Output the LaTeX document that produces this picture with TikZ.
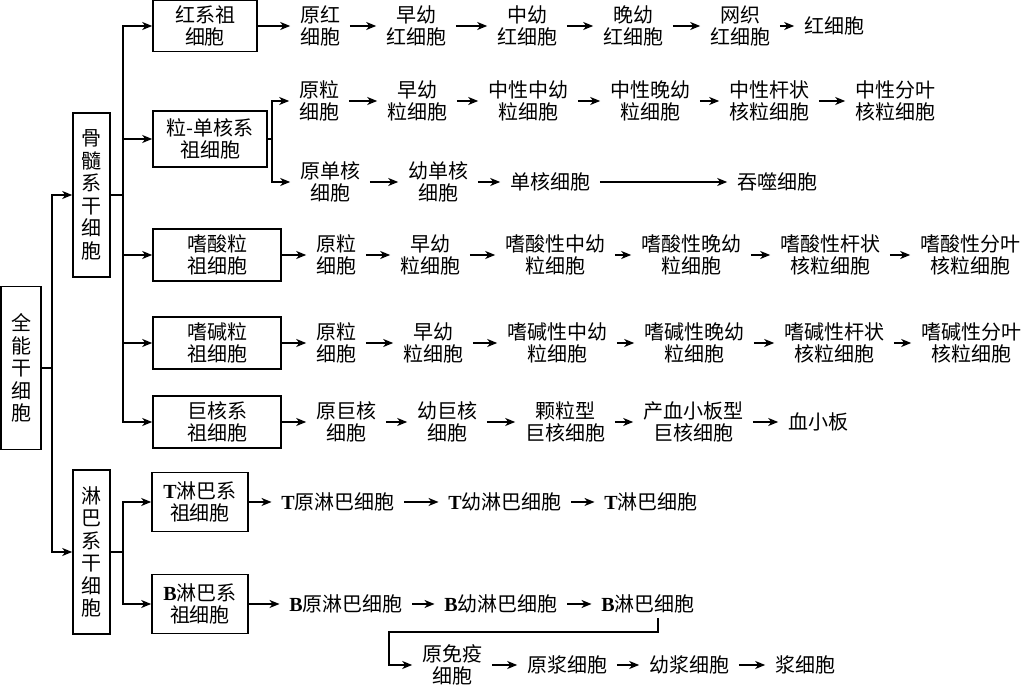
\documentclass[tikz,border=0pt]{standalone}
\usepackage{fontspec}
\newfontfamily\cjk{Noto Sans CJK SC}
\newfontfamily\latfont{Liberation Serif}
\newcommand\lettr[1]{{\latfont\bfseries #1}}
\usetikzlibrary{arrows.meta}

\begin{document}
\begin{tikzpicture}[x=0.5pt,y=-0.5pt,line width=0.8pt,
    >={Stealth[length=5pt,width=4pt,inset=1.5pt]},
    cell/.style={align=center,inner xsep=4.5pt,inner ysep=2pt,font=\cjk\fontsize{10}{11}\selectfont},
    cellbox/.style={draw,align=center,inner sep=0pt,font=\cjk\fontsize{10}{11}\selectfont},
    stembox/.style={cellbox,font=\cjk\fontsize{10}{11.25}\selectfont}]

  \useasboundingbox (0,0) rectangle (1024,688);

  % stem cells
  \node[stembox,minimum width=20pt,minimum height=81.5pt] (quan) at (21,368) {全\\能\\干\\细\\胞};
  \node[stembox,minimum width=18.5pt,minimum height=82pt] (gusui) at (91.5,195) {骨\\髓\\系\\干\\细\\胞};
  \node[stembox,minimum width=18.5pt,minimum height=82pt] (linba) at (91.5,552) {淋\\巴\\系\\干\\细\\胞};

  % progenitors
  \node[cellbox,minimum width=52pt,minimum height=25.5pt] (hong) at (205,26) {红系祖\\细胞};
  \node[cellbox,minimum width=57pt,minimum height=28pt] (lidan) at (210,139) {粒-单核系\\祖细胞};
  \node[cellbox,minimum width=64pt,minimum height=26pt] (suan) at (217,255) {嗜酸粒\\祖细胞};
  \node[cellbox,minimum width=64pt,minimum height=26pt] (jian) at (217,343) {嗜碱粒\\祖细胞};
  \node[cellbox,minimum width=64pt,minimum height=26pt] (juhe) at (217,422) {巨核系\\祖细胞};
  \node[cellbox,minimum width=48pt,minimum height=29.5pt] (tbox) at (200,502) {\lettr{T}淋巴系\\祖细胞};
  \node[cellbox,minimum width=48pt,minimum height=29.5pt] (bbox) at (200,604) {\lettr{B}淋巴系\\祖细胞};

  \coordinate (fork0) at (52,368);
  \draw (quan.east) -- (fork0);
  \draw[->] (fork0) |- (gusui.west);
  \draw[->] (fork0) |- (linba.west);

  \coordinate (fork1) at (123,195);
  \draw (gusui.east) -- (fork1);
  \foreach \b in {hong,lidan,suan,jian,juhe}
    \draw[->] (fork1) |- (\b.west);

  \coordinate (fork2) at (123,552);
  \draw (linba.east) -- (fork2);
  \foreach \b in {tbox,bbox}
    \draw[->] (fork2) |- (\b.west);

  % red
  \node[cell] (h1) at (320,26) {原红\\细胞};
  \node[cell] (h2) at (416,26) {早幼\\红细胞};
  \node[cell] (h3) at (527,26) {中幼\\红细胞};
  \node[cell] (h4) at (633,26) {晚幼\\红细胞};
  \node[cell] (h5) at (740,26) {网织\\红细胞};
  \node[cell] (h6) at (834,26) {红细胞};

  % neutrophil and monocyte
  \node[cell] (n1) at (319,101) {原粒\\细胞};
  \node[cell] (n2) at (417,101) {早幼\\粒细胞};
  \node[cell] (n3) at (528,101) {中性中幼\\粒细胞};
  \node[cell] (n4) at (650,101) {中性晚幼\\粒细胞};
  \node[cell] (n5) at (769,101) {中性杆状\\核粒细胞};
  \node[cell] (n6) at (895,101) {中性分叶\\核粒细胞};

  \node[cell] (m1) at (330,182) {原单核\\细胞};
  \node[cell] (m2) at (438,182) {幼单核\\细胞};
  \node[cell] (m3) at (550,182) {单核细胞};
  \node[cell] (m4) at (777,182) {吞噬细胞};

  \coordinate (fork3) at (272,139);
  \draw (lidan.east) -- (fork3);
  \draw[->] (fork3) |- (n1.west);
  \draw[->] (fork3) |- (m1.west);

  % eosinophil
  \node[cell] (e1) at (336,255) {原粒\\细胞};
  \node[cell] (e2) at (430,255) {早幼\\粒细胞};
  \node[cell] (e3) at (555,255) {嗜酸性中幼\\粒细胞};
  \node[cell] (e4) at (691,255) {嗜酸性晚幼\\粒细胞};
  \node[cell] (e5) at (830,255) {嗜酸性杆状\\核粒细胞};
  \node[cell] (e6) at (970,255) {嗜酸性分叶\\核粒细胞};

  % basophil
  \node[cell] (ba1) at (336,343) {原粒\\细胞};
  \node[cell] (ba2) at (433,343) {早幼\\粒细胞};
  \node[cell] (ba3) at (557,343) {嗜碱性中幼\\粒细胞};
  \node[cell] (ba4) at (694,343) {嗜碱性晚幼\\粒细胞};
  \node[cell] (ba5) at (834,343) {嗜碱性杆状\\核粒细胞};
  \node[cell] (ba6) at (971,343) {嗜碱性分叶\\核粒细胞};

  % megakaryocyte
  \node[cell] (k1) at (346,422) {原巨核\\细胞};
  \node[cell] (k2) at (447,422) {幼巨核\\细胞};
  \node[cell] (k3) at (565,422) {颗粒型\\巨核细胞};
  \node[cell] (k4) at (693,422) {产血小板型\\巨核细胞};
  \node[cell] (k5) at (818,422) {血小板};

  % lymphocytes
  \node[cell] (t1) at (338,502) {\lettr{T}原淋巴细胞};
  \node[cell] (t2) at (505,502) {\lettr{T}幼淋巴细胞};
  \node[cell] (t3) at (651,502) {\lettr{T}淋巴细胞};

  \node[cell] (bl1) at (346,604) {\lettr{B}原淋巴细胞};
  \node[cell] (bl2) at (501,604) {\lettr{B}幼淋巴细胞};
  \node[cell] (bl3) at (648,604) {\lettr{B}淋巴细胞};

  \node[cell] (p1) at (452,665) {原免疫\\细胞};
  \node[cell] (p2) at (567,665) {原浆细胞};
  \node[cell] (p3) at (689,665) {幼浆细胞};
  \node[cell] (p4) at (805,665) {浆细胞};

  \coordinate (bend) at (389,632);
  \draw[->] ([xshift=5pt]bl3.south) |- (bend) |- (p1.west);

  \foreach \a/\b in {hong/h1,h1/h2,h2/h3,h3/h4,h4/h5,h5/h6,
      n1/n2,n2/n3,n3/n4,n4/n5,n5/n6,m1/m2,m2/m3,m3/m4,
      suan/e1,e1/e2,e2/e3,e3/e4,e4/e5,e5/e6,
      jian/ba1,ba1/ba2,ba2/ba3,ba3/ba4,ba4/ba5,ba5/ba6,
      juhe/k1,k1/k2,k2/k3,k3/k4,k4/k5,
      tbox/t1,t1/t2,t2/t3,bbox/bl1,bl1/bl2,bl2/bl3,
      p1/p2,p2/p3,p3/p4}
    \draw[->] (\a.east) -- (\b.west);

\end{tikzpicture}
\end{document}
